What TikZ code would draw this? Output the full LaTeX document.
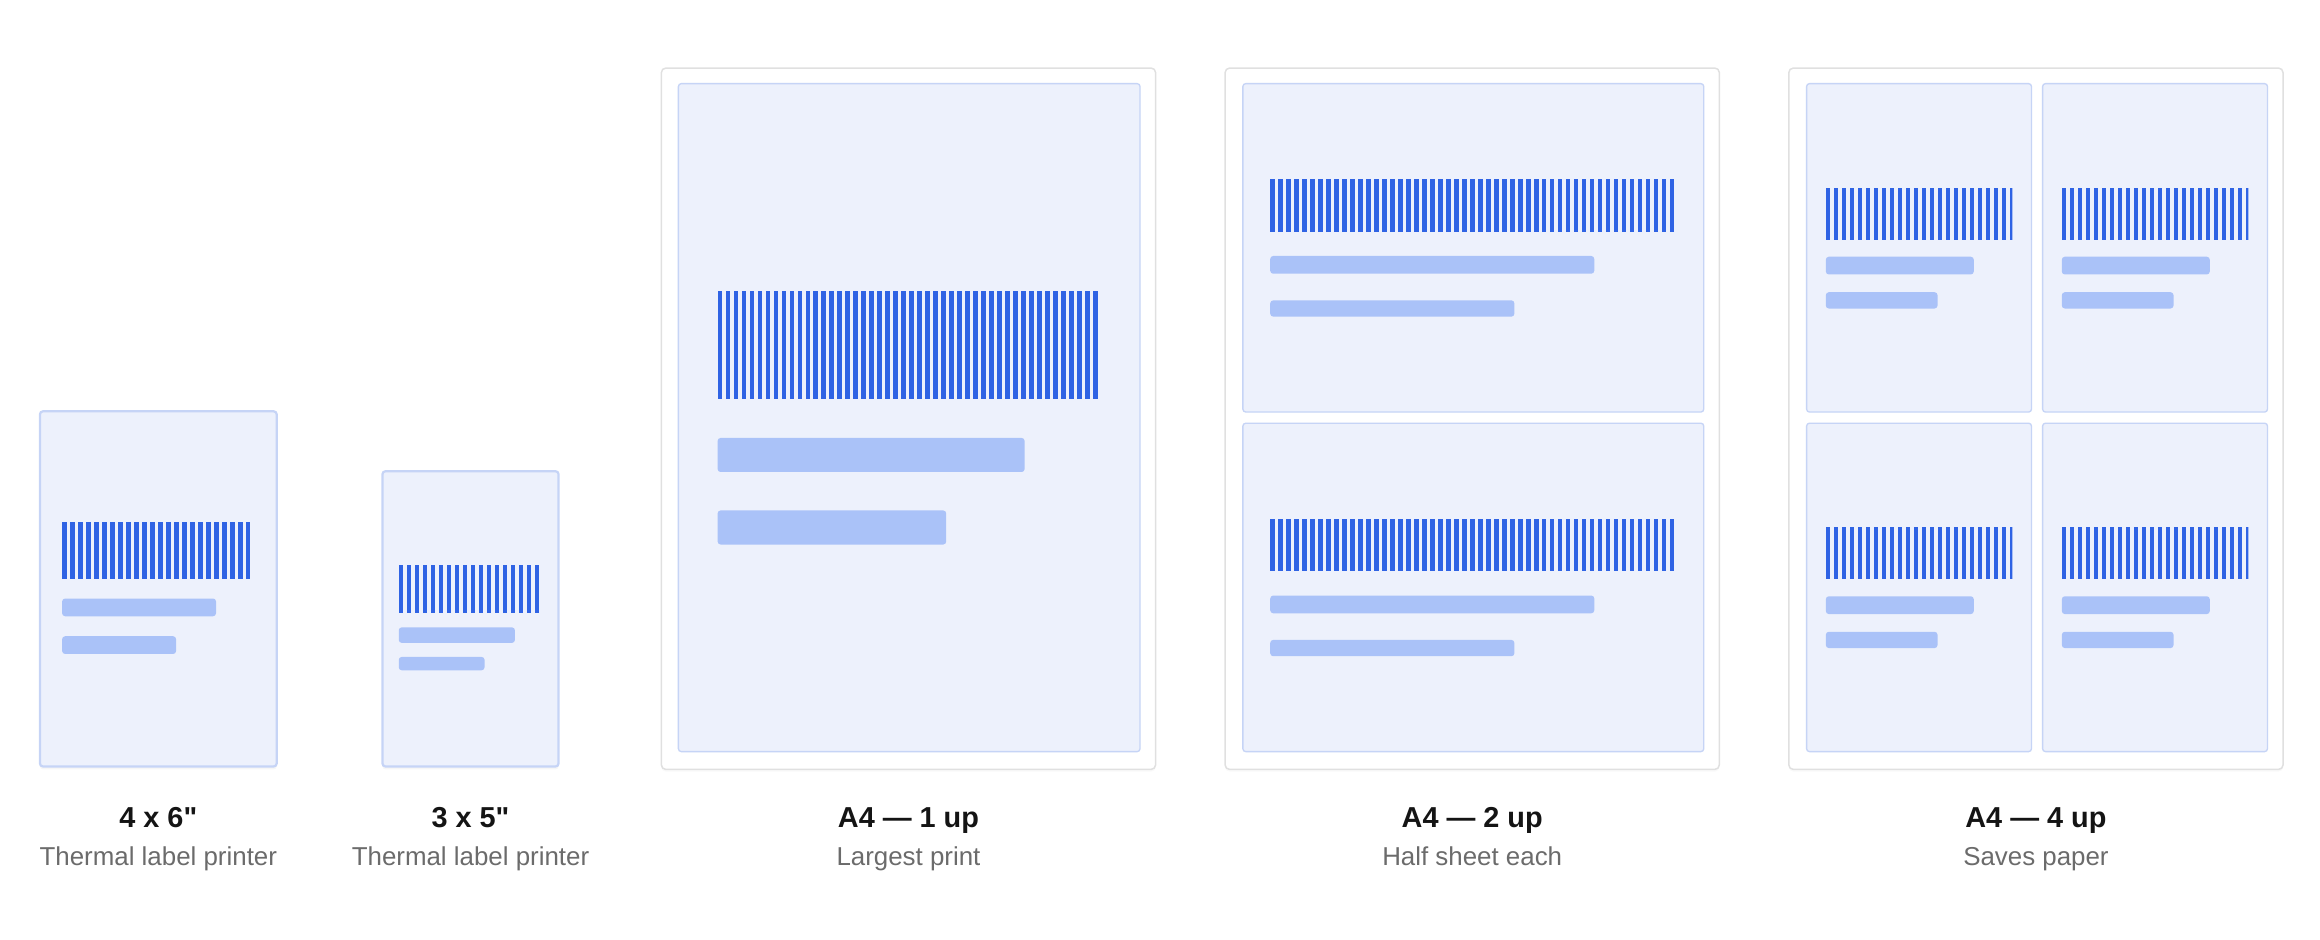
\documentclass[tikz,border=0pt]{standalone}
\usepackage{fontspec}
\setmainfont{Liberation Sans}[Ligatures=TeXOff]
\usetikzlibrary{shadows}

\definecolor{cellfill}{HTML}{EDF1FC}
\definecolor{cellline}{HTML}{C6D4F6}
\definecolor{sheetline}{HTML}{E0E0E0}
\definecolor{barblue}{HTML}{2F63E4}
\definecolor{barlight}{HTML}{AAC2F8}
\definecolor{titlecol}{HTML}{141414}
\definecolor{subcol}{HTML}{6B6B6B}

\tikzset{
	sheet/.style={draw=sheetline, line width=1pt, fill=white, rounded corners=3pt,
		drop shadow={shadow xshift=0pt, shadow yshift=-1.5pt, opacity=.05}},
	cell/.style={draw=cellline, line width=0.9pt, fill=cellfill, rounded corners=2pt},
	thermal/.style={cell, line width=1.5pt,
		drop shadow={shadow xshift=0pt, shadow yshift=-2pt, opacity=.07}},
	textbar/.style={fill=barlight, rounded corners=2pt},
	title/.style={anchor=base, text=titlecol, font=\fontsize{19.5}{22}\selectfont\bfseries},
	subtitle/.style={anchor=base, text=subcol, font=\fontsize{17.5}{20}\selectfont}
}

%% barcode: left, top, right, bottom
\newcommand{\drawbars}[4]{%
	\begin{scope}
		\clip (#1,#2) rectangle (#3,#4);
		\foreach \k in {0,...,52}
			\fill[barblue] ({#1+\k*5.4},#2) rectangle ({#1+\k*5.4+3.1},#4);
	\end{scope}}

\begin{document}
\begin{tikzpicture}[x=1pt, y=-1pt]
			\useasboundingbox (0,0) rectangle (1568,635);
			
			%% 4 x 6
			\draw[thermal] (27,278) rectangle (187,518);
			\drawbars{42}{352.5}{169}{391}
			\fill[textbar] (42,404.5) rectangle (146,416.5);
			\fill[textbar] (42,430) rectangle (119,442);
			\node[title] (t46) at (107,559) {4 x 6"};
			\node[subtitle] (s46) at (107,585) {Thermal label printer};
			
			%% 3 x 5
			\draw[thermal] (258.5,318.5) rectangle (377.5,518);
			\drawbars{269.5}{382}{364.5}{414}
			\fill[textbar] (269.5,424) rectangle (348,434.5);
			\fill[textbar] (269.5,444) rectangle (327.5,453);
			\node[title] (t35) at (318,559) {3 x 5"};
			\node[subtitle] (s35) at (318,585) {Thermal label printer};
			
			%% A4 - 1 up
			\draw[sheet] (447,46) rectangle (781,520);
			\draw[cell] (458.5,56.5) rectangle (770.5,508);
			\drawbars{485}{197}{742.5}{270}
			\fill[textbar] (485,296) rectangle (692.5,319);
			\fill[textbar] (485,345) rectangle (639.5,368);
			\node[title] (tone) at (614,559) {A4 — 1 up};
			\node[subtitle] (sone) at (614,585) {Largest print};
			
			%% A4 - 2 up
			\draw[sheet] (828,46) rectangle (1162,520);
			\foreach \dy in {0,229.5} {
				\draw[cell] (840,56.5+\dy) rectangle (1151.5,278.5+\dy);
				\drawbars{858.5}{121+\dy}{1131.5}{156.5+\dy}
				\fill[textbar] (858.5,173+\dy) rectangle (1077.5,185+\dy);
				\fill[textbar] (858.5,203+\dy) rectangle (1023.5,214+\dy);
			}
			\node[title] (ttwo) at (995,559) {A4 — 2 up};
			\node[subtitle] (stwo) at (995,585) {Half sheet each};
			
			%% A4 - 4 up
			\draw[sheet] (1209,46) rectangle (1543,520);
			\foreach \dx in {0,159.5}
				\foreach \dy in {0,229.5} {
					\draw[cell] (1221+\dx,56.5+\dy) rectangle (1373+\dx,278.5+\dy);
					\drawbars{1234+\dx}{127+\dy}{1360+\dx}{162+\dy}
					\fill[textbar] (1234+\dx,173.5+\dy) rectangle (1334+\dx,185.5+\dy);
					\fill[textbar] (1234+\dx,197.5+\dy) rectangle (1309.5+\dx,208.5+\dy);
				}
			\node[title] (tfour) at (1376,559) {A4 — 4 up};
			\node[subtitle] (sfour) at (1376,585) {Saves paper};
		\end{tikzpicture}
\end{document}
